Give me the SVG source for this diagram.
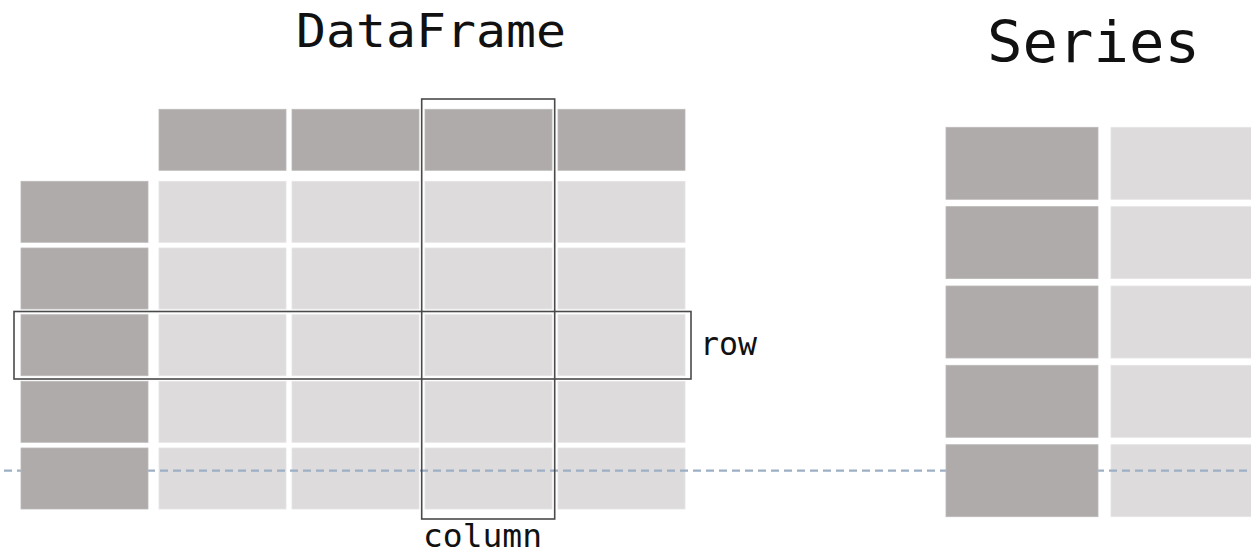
<svg xmlns="http://www.w3.org/2000/svg" width="1251" height="555" viewBox="0 0 1251 555">
  <defs>
    <style>
      .key { fill: #afabaa; stroke: #bcb9b8; stroke-width: 0.8; }
      .val { fill: #dddbdc; stroke: #e6e4e5; stroke-width: 0.8; }
      .guide { fill: none; stroke: #9cafc4; stroke-width: 2.2; stroke-dasharray: 8 5; stroke-dashoffset: -4; }
      .frame { fill: none; stroke: #4a4a4a; stroke-width: 1.6; }
      .title { font-family: "DejaVu Sans Mono", "Liberation Mono", monospace; fill: #111; }
      .label { font-family: "DejaVu Sans Mono", "Liberation Mono", monospace; font-size: 32px; fill: #111; }
    </style>
  </defs>
  <rect width="1251" height="555" fill="#ffffff"/>

  <!-- value cells (light) -->
  <g id="dataframe-values">
    <rect class="val" x="159" y="181.3" width="127" height="61"/>
    <rect class="val" x="292" y="181.3" width="127" height="61"/>
    <rect class="val" x="425" y="181.3" width="127" height="61"/>
    <rect class="val" x="558" y="181.3" width="127" height="61"/>
    <rect class="val" x="159" y="248" width="127" height="61"/>
    <rect class="val" x="292" y="248" width="127" height="61"/>
    <rect class="val" x="425" y="248" width="127" height="61"/>
    <rect class="val" x="558" y="248" width="127" height="61"/>
    <rect class="val" x="159" y="314.7" width="127" height="61"/>
    <rect class="val" x="292" y="314.7" width="127" height="61"/>
    <rect class="val" x="425" y="314.7" width="127" height="61"/>
    <rect class="val" x="558" y="314.7" width="127" height="61"/>
    <rect class="val" x="159" y="381.3" width="127" height="61"/>
    <rect class="val" x="292" y="381.3" width="127" height="61"/>
    <rect class="val" x="425" y="381.3" width="127" height="61"/>
    <rect class="val" x="558" y="381.3" width="127" height="61"/>
    <rect class="val" x="159" y="448" width="127" height="61"/>
    <rect class="val" x="292" y="448" width="127" height="61"/>
    <rect class="val" x="425" y="448" width="127" height="61"/>
    <rect class="val" x="558" y="448" width="127" height="61"/>
  </g>
  <g id="series-values">
    <rect class="val" x="1111" y="127.3" width="150" height="72"/>
    <rect class="val" x="1111" y="206.6" width="150" height="72"/>
    <rect class="val" x="1111" y="286" width="150" height="72"/>
    <rect class="val" x="1111" y="365.3" width="150" height="72"/>
    <rect class="val" x="1111" y="444.7" width="150" height="72"/>
  </g>

  <!-- dashed guide line -->
  <g id="connectors">
    <line class="guide" x1="0" y1="470.7" x2="1251" y2="470.7"/>
  </g>

  <!-- label cells (dark) -->
  <g id="dataframe-columns">
    <rect class="key" x="159" y="109.3" width="127" height="61"/>
    <rect class="key" x="292" y="109.3" width="127" height="61"/>
    <rect class="key" x="425" y="109.3" width="127" height="61"/>
    <rect class="key" x="558" y="109.3" width="127" height="61"/>
  </g>
  <g id="dataframe-index">
    <rect class="key" x="21" y="181.3" width="127" height="61"/>
    <rect class="key" x="21" y="248" width="127" height="61"/>
    <rect class="key" x="21" y="314.7" width="127" height="61"/>
    <rect class="key" x="21" y="381.3" width="127" height="61"/>
    <rect class="key" x="21" y="448" width="127" height="61"/>
  </g>
  <g id="series-index">
    <rect class="key" x="946" y="127.3" width="152" height="72"/>
    <rect class="key" x="946" y="206.6" width="152" height="72"/>
    <rect class="key" x="946" y="286" width="152" height="72"/>
    <rect class="key" x="946" y="365.3" width="152" height="72"/>
    <rect class="key" x="946" y="444.7" width="152" height="72"/>
  </g>

  <!-- highlighted row and column -->
  <g id="row-highlight">
    <rect class="frame" x="14" y="311.5" width="677" height="67.5"/>
    <text class="label" x="700" y="355" textLength="57" lengthAdjust="spacingAndGlyphs">row</text>
  </g>
  <g id="column-highlight">
    <rect class="frame" x="421.7" y="99" width="133" height="420"/>
    <text class="label" x="423" y="547" textLength="119" lengthAdjust="spacingAndGlyphs">column</text>
  </g>

  <!-- titles -->
  <g id="title-dataframe">
    <text class="title" x="296" y="46.7" font-size="46" textLength="270" lengthAdjust="spacingAndGlyphs">DataFrame</text>
  </g>
  <g id="title-series">
    <text class="title" x="987" y="62.3" font-size="57" textLength="213" lengthAdjust="spacingAndGlyphs">Series</text>
  </g>
</svg>
